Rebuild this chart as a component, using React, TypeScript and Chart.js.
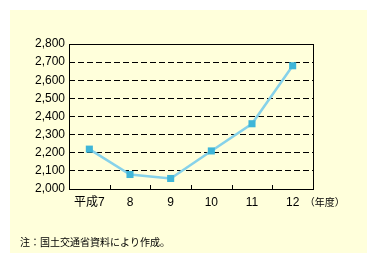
import React, { useEffect, useRef } from "react";
import { Chart, registerables } from "chart.js";

Chart.register(...registerables);

const categories = ["平成7", "8", "9", "10", "11", "12"];
const values = [2220, 2080, 2058, 2210, 2360, 2680];
const yMin = 2000;
const yMax = 2800;
const yStep = 100;
const unitLabel = "（年度）";
const noteText = "注：国土交通省資料により作成。";

const FONT = "'Liberation Sans', 'Noto Sans CJK JP', sans-serif";
const JFONT = "'Noto Sans CJK JP', sans-serif";

const decorPlugin = {
  id: "decor",
  beforeDraw(chart: any) {
    const ctx = chart.ctx;
    ctx.save();
    ctx.fillStyle = "#ffffff";
    ctx.fillRect(0, 0, chart.width, chart.height);
    ctx.fillStyle = "#ffffdb";
    ctx.fillRect(10, 10, 357, 243);
    ctx.restore();
  },
  beforeDatasetsDraw(chart: any) {
    const ctx = chart.ctx;
    const a = chart.chartArea;
    const xs = chart.scales.x;
    ctx.save();
    ctx.strokeStyle = "#000000";
    ctx.lineWidth = 1;
    ctx.strokeRect(Math.round(a.left) + 0.5, Math.round(a.top) + 0.5, Math.round(a.right - a.left), Math.round(a.bottom - a.top));
    const n = categories.length;
    for (let i = 1; i < n; i++) {
      const x = Math.round((xs.getPixelForValue(i - 1) + xs.getPixelForValue(i)) / 2) + 0.5;
      ctx.beginPath();
      ctx.moveTo(x, Math.round(a.bottom));
      ctx.lineTo(x, Math.round(a.bottom) - 4);
      ctx.stroke();
    }
    ctx.restore();
  },
  afterDraw(chart: any) {
    const ctx = chart.ctx;
    const xs = chart.scales.x;
    ctx.save();
    ctx.fillStyle = "#000000";
    ctx.textBaseline = "middle";
    ctx.textAlign = "left";
    const lastX = xs.getPixelForValue(categories.length - 1);
    ctx.font = "10px " + JFONT;
    ctx.fillText(unitLabel, lastX + 12, 202);
    ctx.fillText(noteText, 20, 242);
    ctx.restore();
  },
};

export default function App() {
  const ref = useRef<HTMLCanvasElement>(null);
  useEffect(() => {
    const chart = new Chart(ref.current!, {
      type: "line",
      data: {
        labels: categories,
        datasets: [
          {
            data: values,
            borderColor: "#86d2ea",
            borderWidth: 2.5,
            pointStyle: "rect",
            pointRadius: 5,
            pointBorderWidth: 0,
            pointBackgroundColor: "#3fb6d8",
            pointBorderColor: "#3fb6d8",
            tension: 0,
          },
        ],
      },
      options: {
        animation: false,
        responsive: false,
        devicePixelRatio: 1,
        layout: { padding: { left: 0, right: 64, top: 44, bottom: 40 } },
        plugins: { legend: { display: false }, tooltip: { enabled: false } },
        scales: {
          x: {
            offset: true,
            grid: { display: false, drawTicks: false },
            border: { display: false },
            ticks: {
              color: "#000000",
              font: { family: FONT, size: 12 },
              padding: 6,
              maxRotation: 0,
              autoSkip: false,
            },
            afterFit: (s: any) => {
              s.height = 35;
            },
          },
          y: {
            min: yMin,
            max: yMax,
            grid: { color: "#000000", lineWidth: 1, drawTicks: false },
            border: { display: false, dash: [6, 3] },
            ticks: {
              stepSize: yStep,
              color: "#000000",
              padding: 4,
              font: { family: FONT, size: 12 },
              callback: (v: any) => Number(v).toLocaleString("en-US"),
            },
            afterFit: (s: any) => {
              s.width = 69;
            },
          },
        },
      },
      plugins: [decorPlugin],
    });
    return () => chart.destroy();
  }, []);
  return (
    <div style={{ position: "fixed", left: 0, top: 0, width: 377, height: 264 }}>
      <canvas ref={ref} width={377} height={264} style={{ display: "block" }} />
    </div>
  );
}
